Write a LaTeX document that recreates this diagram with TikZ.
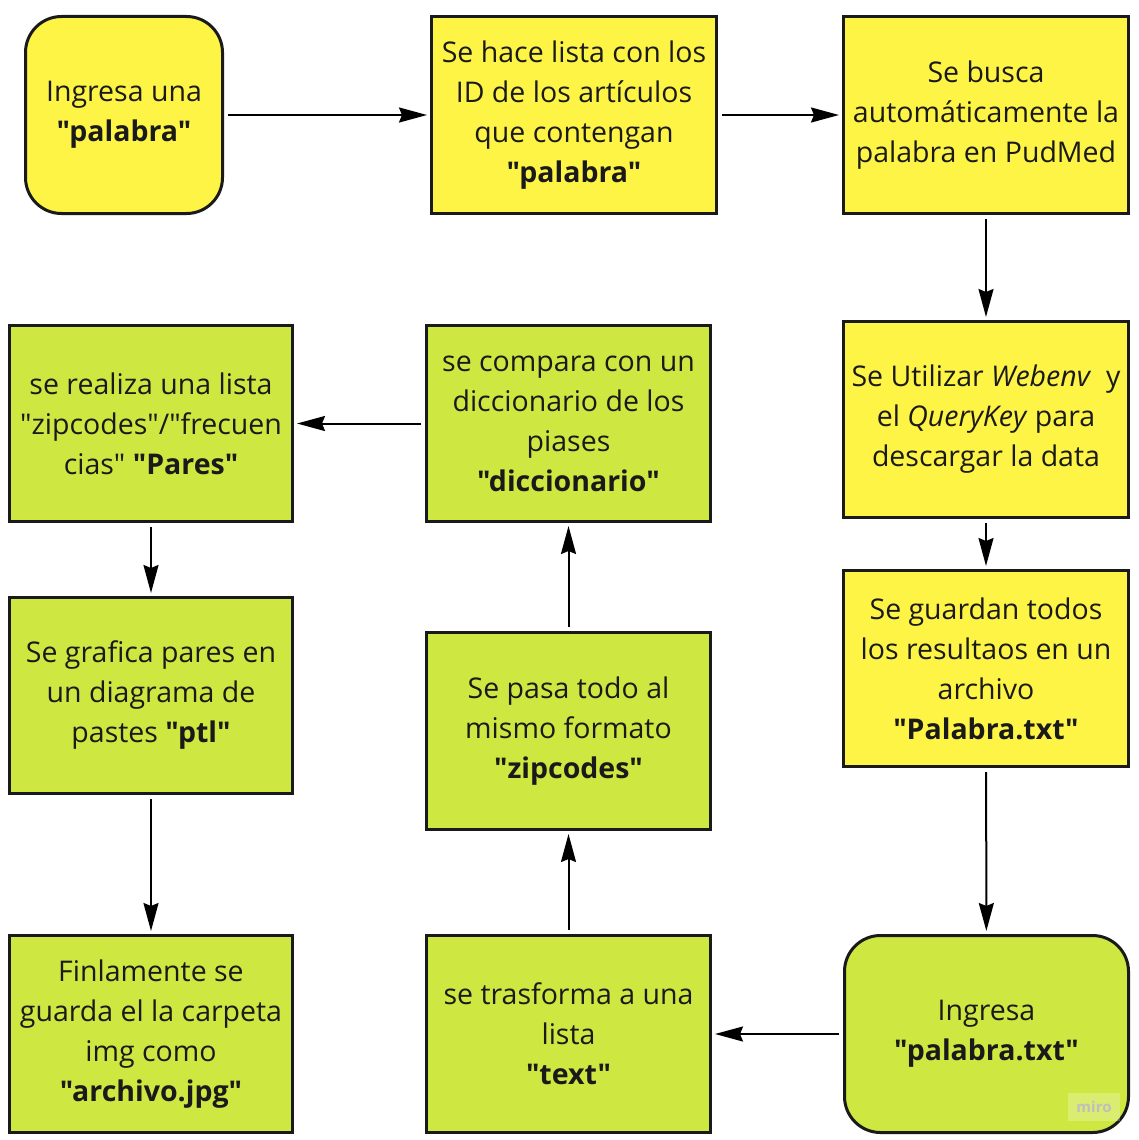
\documentclass[tikz,border=0pt]{standalone}
\usepackage{fontspec}
\setmainfont{Open Sans}[Ligatures=TeXOff]
\usetikzlibrary{arrows.meta}
\definecolor{myyellow}{HTML}{FEF445}
\definecolor{mygreen}{HTML}{CEE741}
\definecolor{myborder}{HTML}{1A1A1A}
\newcommand\dq{\char34\relax}
\tikzset{
  boxbase/.style={draw=myborder, line width=3pt, align=center, text=myborder,
    font=\fontsize{28.5}{40}\selectfont, inner sep=0pt},
  ybox/.style={boxbase, fill=myyellow},
  gbox/.style={boxbase, fill=mygreen},
  rnd/.style={rounded corners=36pt},
  arr/.style={-{Stealth[length=28pt,width=15pt,inset=3pt]}, line width=2pt, shorten >=3pt, shorten <=4pt}
}
\begin{document}
\begin{tikzpicture}[x=1pt,y=-1pt]
\useasboundingbox (0,0) rectangle (1139,1140);
\fill[white] (0,0) rectangle (1139,1140);
% nodes
\node[ybox, rnd, minimum width=197pt, minimum height=197pt] (n1) at (124,115) {Ingresa una\\\textbf{\dq palabra\dq}};
\node[ybox, minimum width=285pt, minimum height=197pt] (n2) at (574,115) {Se hace lista con los\\ID de los artículos\\que contengan\\\textbf{\dq palabra\dq}};
\node[ybox, minimum width=285pt, minimum height=197pt] (n3) at (986,115) {Se busca\\automáticamente la\\palabra en PudMed};
\node[ybox, minimum width=285pt, minimum height=196pt] (n4) at (986,419.5) {Se Utilizar \textit{Webenv}\ \ y\\el \textit{QueryKey} para\\descargar la data};
\node[ybox, minimum width=285pt, minimum height=196pt] (n5) at (986,668.5) {Se guardan todos\\los resultaos en un\\archivo\\\textbf{\dq Palabra.txt\dq}};
\node[gbox, rnd, minimum width=284pt, minimum height=197pt] (n6) at (986.5,1034) {Ingresa\\\textbf{\dq palabra.txt\dq}};
\node[gbox, minimum width=284pt, minimum height=197pt] (n7) at (568.5,1034) {se trasforma a una\\lista\\\textbf{\dq text\dq}};
\node[gbox, minimum width=284pt, minimum height=197pt] (n8) at (568.5,731) {Se pasa todo al\\mismo formato\\\textbf{\dq zipcodes\dq}};
\node[gbox, minimum width=284pt, minimum height=196pt] (n9) at (568.5,423.5) {se compara con un\\diccionario de los\\piases\\\textbf{\dq diccionario\dq}};
\node[gbox, minimum width=283pt, minimum height=196pt] (n10) at (151,423.5) {se realiza una lista\\\dq zipcodes\dq/\dq frecuen\\cias\dq{} \textbf{\dq Pares\dq}};
\node[gbox, minimum width=283pt, minimum height=196pt] (n11) at (151,695.5) {Se grafica pares en\\un diagrama de\\pastes \textbf{\dq ptl\dq}};
\node[gbox, minimum width=283pt, minimum height=197pt] (n12) at (151,1034) {Finlamente se\\guarda el la carpeta\\img como\\\textbf{\dq archivo.jpg\dq}};
% watermark
\node[fill=white, fill opacity=0.25, text opacity=1, text=black!25, font=\fontsize{15}{15}\selectfont\bfseries, minimum width=52pt, minimum height=28pt, inner sep=0pt] (wm) at (1094,1107) {miro};
% connectors
\draw[arr] (n1) -- (n2);
\draw[arr] (n2) -- (n3);
\draw[arr] (n3) -- (n4);
\draw[arr] (n4) -- (n5);
\draw[arr] (n5) -- (n6);
\draw[arr] (n6) -- (n7);
\draw[arr] (n7) -- (n8);
\draw[arr] (n8) -- (n9);
\draw[arr] (n9) -- (n10);
\draw[arr] (n10) -- (n11);
\draw[arr] (n11) -- (n12);
\end{tikzpicture}
\end{document}
